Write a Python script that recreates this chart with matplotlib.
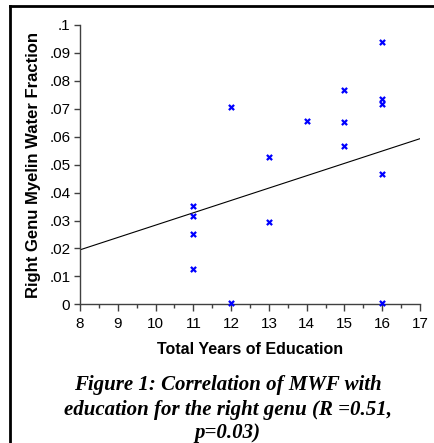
import matplotlib
matplotlib.use("Agg")
import matplotlib.pyplot as plt
from matplotlib.ticker import MultipleLocator
from matplotlib.lines import Line2D

plt.rcParams["font.family"] = ["Liberation Sans", "DejaVu Sans"]

# Data
education_years = [11, 11, 11, 11, 12, 12, 13, 13, 14, 15, 15, 15, 16, 16, 16, 16, 16]
mwf_right_genu = [0.0352, 0.0315, 0.0251, 0.0125, 0.0707, 0.0005, 0.0529, 0.0294,
                  0.0657, 0.0766, 0.0653, 0.0567, 0.0938, 0.0735, 0.0717, 0.0468, 0.0005]
trend_x = [8, 17]
trend_y = [0.0195, 0.0593]

x_ticks = [8, 9, 10, 11, 12, 13, 14, 15, 16, 17]
y_ticks = [0, 0.01, 0.02, 0.03, 0.04, 0.05, 0.06, 0.07, 0.08, 0.09, 0.1]
y_tick_labels = ["0", ".01", ".02", ".03", ".04", ".05", ".06", ".07", ".08", ".09", ".1"]

W, H = 435, 443
fig = plt.figure(figsize=(W / 100, H / 100), dpi=100)

ax = fig.add_axes([80 / W, 1 - 304.3 / H, 340 / W, 279.3 / H])
ax.scatter(education_years, mwf_right_genu, marker="x", s=14, color="#0000ff",
           linewidths=1.6, zorder=3, clip_on=False)
ax.plot(trend_x, trend_y, color="black", linewidth=0.8)

ax.set_xlim(8, 17)
ax.set_ylim(0, 0.1)
ax.set_xticks(x_ticks)
ax.set_xticklabels([str(v) for v in x_ticks], fontsize=11)
ax.xaxis.set_minor_locator(MultipleLocator(0.5))
ax.set_yticks(y_ticks)
ax.set_yticklabels(y_tick_labels, fontsize=11)

for s in ["top", "right"]:
    ax.spines[s].set_visible(False)
for s in ["left", "bottom"]:
    ax.spines[s].set_color("#404040")
    ax.spines[s].set_linewidth(1.0)

ax.tick_params(axis="x", which="major", length=5, width=1, color="#404040", pad=4)
ax.tick_params(axis="x", which="minor", length=3, width=1, color="#404040")
ax.tick_params(axis="y", which="major", length=4, width=1, color="#404040", pad=3)

ax.set_xlabel("Total Years of Education", fontweight="bold", fontsize=11.5, labelpad=8)
ax.set_ylabel("Right Genu Myelin Water Fraction", fontweight="bold", fontsize=12,
              labelpad=6)

caption_lines = ["Figure 1: Correlation of MWF with",
                 "education for the right genu (R =0.51,",
                 "p=0.03)"]
caption_y = [385, 410, 433]
for txt, yy in zip(caption_lines, caption_y):
    fig.text(228 / W, 1 - yy / H, txt, ha="center", va="center",
             fontfamily="Liberation Serif", fontweight="bold", fontstyle="italic",
             fontsize=15)

# outer frame lines (left and top)
fig.add_artist(Line2D([10 / W, 10 / W], [0, 1 - 6 / H], transform=fig.transFigure,
                      color="black", linewidth=2))
fig.add_artist(Line2D([10 / W, 1], [1 - 6 / H, 1 - 6 / H], transform=fig.transFigure,
                      color="black", linewidth=2))

fig.savefig("out.png", dpi=100)
